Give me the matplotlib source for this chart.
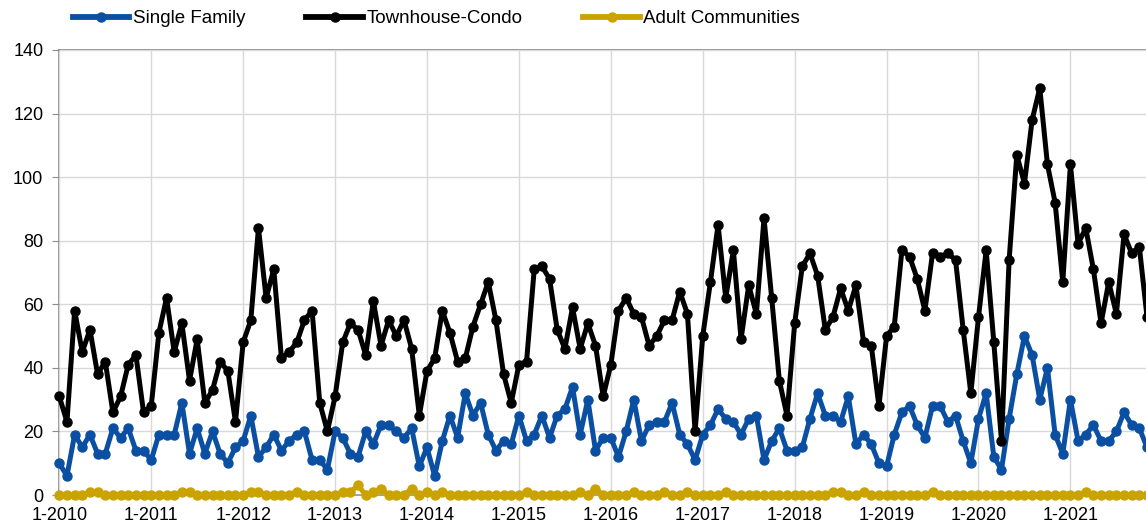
import numpy as np
import matplotlib
matplotlib.use("Agg")
import matplotlib.pyplot as plt

# ---- data (monthly, Jan 2010 .. Nov 2021) ----
year_labels = ["1-2010", "1-2011", "1-2012", "1-2013", "1-2014", "1-2015",
               "1-2016", "1-2017", "1-2018", "1-2019", "1-2020", "1-2021"]

single_family = [
    10, 6, 19, 15, 19, 13, 13, 21, 18, 21, 14, 14,
    11, 19, 19, 19, 29, 13, 21, 13, 20, 13, 10, 15,
    17, 25, 12, 15, 19, 14, 17, 19, 20, 11, 11, 8,
    20, 18, 13, 12, 20, 16, 22, 22, 20, 18, 21, 9,
    15, 6, 17, 25, 18, 32, 25, 29, 19, 14, 17, 16,
    25, 17, 19, 25, 18, 25, 27, 34, 19, 30, 14, 18,
    18, 12, 20, 30, 17, 22, 23, 23, 29, 19, 16, 11,
    19, 22, 27, 24, 23, 19, 24, 25, 11, 17, 21, 14,
    14, 15, 24, 32, 25, 25, 23, 31, 16, 19, 16, 10,
    9, 19, 26, 28, 22, 18, 28, 28, 23, 25, 17, 10,
    24, 32, 12, 8, 24, 38, 50, 44, 30, 40, 19, 13,
    30, 17, 19, 22, 17, 17, 20, 26, 22, 21, 15,
]

townhouse_condo = [
    31, 23, 58, 45, 52, 38, 42, 26, 31, 41, 44, 26,
    28, 51, 62, 45, 54, 36, 49, 29, 33, 42, 39, 23,
    48, 55, 84, 62, 71, 43, 45, 48, 55, 58, 29, 20,
    31, 48, 54, 52, 44, 61, 47, 55, 50, 55, 46, 25,
    39, 43, 58, 51, 42, 43, 53, 60, 67, 55, 38, 29,
    41, 42, 71, 72, 68, 52, 46, 59, 46, 54, 47, 31,
    41, 58, 62, 57, 56, 47, 50, 55, 55, 64, 57, 20,
    50, 67, 85, 62, 77, 49, 66, 57, 87, 62, 36, 25,
    54, 72, 76, 69, 52, 56, 65, 58, 66, 48, 47, 28,
    50, 53, 77, 75, 68, 58, 76, 75, 76, 74, 52, 32,
    56, 77, 48, 17, 74, 107, 98, 118, 128, 104, 92, 67,
    104, 79, 84, 71, 54, 67, 57, 82, 76, 78, 56,
]

adult_communities = [
    0, 0, 0, 0, 1, 1, 0, 0, 0, 0, 0, 0,
    0, 0, 0, 0, 1, 1, 0, 0, 0, 0, 0, 0,
    0, 1, 1, 0, 0, 0, 0, 1, 0, 0, 0, 0,
    0, 1, 1, 3, 0, 1, 2, 0, 0, 0, 2, 0,
    1, 0, 1, 0, 0, 0, 0, 0, 0, 0, 0, 0,
    0, 1, 0, 0, 0, 0, 0, 0, 1, 0, 2, 0,
    0, 0, 0, 1, 0, 0, 0, 1, 0, 0, 1, 0,
    0, 0, 0, 1, 0, 0, 0, 0, 0, 0, 0, 0,
    0, 0, 0, 0, 0, 1, 1, 0, 0, 1, 0, 0,
    0, 0, 0, 0, 0, 0, 1, 0, 0, 0, 0, 0,
    0, 0, 0, 0, 0, 0, 0, 0, 0, 0, 0, 0,
    0, 0, 1, 0, 0, 0, 0, 0, 0, 0, 0,
]

series_names = ["Single Family", "Townhouse-Condo", "Adult Communities"]
series_colors = ["#0b4fa2", "#000000", "#cba300"]

plt.rcParams['font.family'] = ['Liberation Sans', 'DejaVu Sans']

W, H = 1146, 530
fig = plt.figure(figsize=(W / 100, H / 100), dpi=100)
x0, x1 = 59.3, 1146.0
y_top, y_bot = 50.0, 495.0
ax = fig.add_axes([x0 / W, (H - y_bot) / H, (x1 - x0) / W, (y_bot - y_top) / H])

months = np.arange(len(townhouse_condo))
for vals, name, col in zip([single_family, townhouse_condo, adult_communities],
                           series_names, series_colors):
    ax.plot(months[:len(vals)], vals, color=col, lw=3.6, marker='o', ms=6.5,
            mec=col, mfc=col, label=name, clip_on=False, solid_joinstyle='round')

month_per_px = 7.66
ax.set_xlim(0, (x1 - x0) / month_per_px)
ax.set_ylim(0, 140)
ax.set_yticks(np.arange(0, 141, 20))
ax.set_xticks(np.arange(len(year_labels)) * 12)
ax.set_xticklabels(year_labels)

ax.grid(True, color='#d9d9d9', lw=1)
ax.set_axisbelow(True)
ax.spines['right'].set_visible(False)
for s in ['left', 'bottom', 'top']:
    ax.spines[s].set_color('#8c8c8c')
    ax.spines[s].set_linewidth(1.2)
    ax.spines[s].set_zorder(0.5)
ax.tick_params(axis='y', length=5, color='#8c8c8c', pad=6.5, labelsize=13)
ax.tick_params(axis='x', length=4, color='#d0d0d0', pad=5, labelsize=13)

leg = fig.legend(loc='upper left', bbox_to_anchor=(73 / W, 1 - 10 / H), ncol=3,
                 frameon=False, fontsize=13.5, handlelength=3.0, handletextpad=0.2,
                 columnspacing=3.25, borderpad=0, borderaxespad=0)
for h in leg.legend_handles:
    h.set_linewidth(4.2)

fig.savefig("out.png", dpi=100)
